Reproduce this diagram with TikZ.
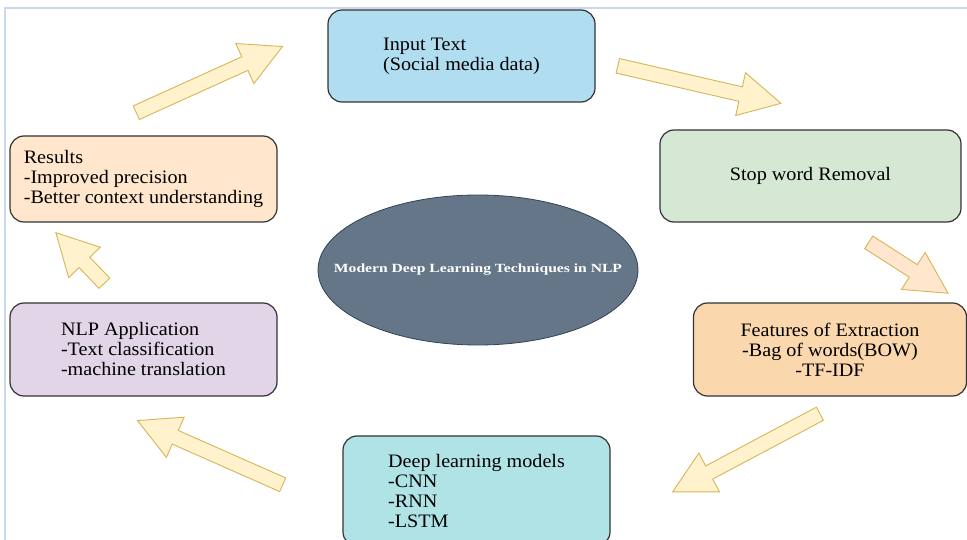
\documentclass[tikz,border=0pt]{standalone}
\usepackage{fontspec}
\setmainfont{Liberation Serif}
\newfontfamily\boxfont{Liberation Serif}[FakeStretch=1.06]
\newfontfamily\ellfont{Liberation Serif}[FakeStretch=1.25]
\usepackage{tikz}
\usetikzlibrary{shapes.geometric, shapes.arrows, calc}

\definecolor{frameblue}{HTML}{C9D9EF}
\definecolor{boxline}{HTML}{333333}
\definecolor{inpblue}{HTML}{B1DDF0}
\definecolor{stopgreen}{HTML}{D5E8D4}
\definecolor{featorange}{HTML}{FAD7AC}
\definecolor{deepcyan}{HTML}{B0E3E6}
\definecolor{nlppurple}{HTML}{E1D5E7}
\definecolor{respeach}{HTML}{FFE6CC}
\definecolor{ellgray}{HTML}{647687}
\definecolor{ellline}{HTML}{314354}
\definecolor{arrfill}{HTML}{FFF2CC}
\definecolor{arrline}{HTML}{D6B656}
\definecolor{arrpeach}{HTML}{FFE6CC}

\newcommand{\flowarrow}[3][]{%
	\path let \p1=($(#3)-(#2)$), \n1={atan2(\y1,\x1)}, \n2={veclen(\x1,\y1)-2} in
		node[flow, #1, rotate=\n1, minimum height=\n2] at ($(#2)!0.5!(#3)$) {};}

\begin{document}
\begin{tikzpicture}[x=1pt, y=-1pt,
	box/.style={draw=boxline, line width=1.2pt, rounded corners=14pt, inner sep=0pt, font=\boxfont\fontsize{19}{20}\selectfont},
	flow/.style={single arrow, draw=arrline, fill=arrfill, line width=0.9pt, inner xsep=0pt, inner ysep=7pt, minimum width=43pt, single arrow head extend=14.5pt, single arrow tip angle=56},
]
	\clip (0,0) rectangle (967,540);
	\fill[white] (0,0) rectangle (967,540);
	\draw[frameblue, line width=1.5pt] (5,540) -- (5,8) -- (967,8);

	\node[box, fill=inpblue, minimum width=267pt, minimum height=92pt, align=left] (inp) at (461.5,56) {Input Text\\(Social media data)};
	\node[box, fill=stopgreen, minimum width=301pt, minimum height=92pt] (stop) at (810.5,176) {Stop word Removal};
	\node[box, fill=featorange, minimum width=273pt, minimum height=93pt, align=center] (feat) at (830,349.5) {Features of Extraction\\-Bag of words(BOW)\\-TF-IDF};
	\node[box, fill=deepcyan, minimum width=267pt, minimum height=110pt, align=left] (deep) at (476.5,491) {Deep learning models\\-CNN\\-RNN\\-LSTM};
	\node[box, fill=nlppurple, minimum width=267pt, minimum height=93pt, align=left] (nlp) at (143.5,349.5) {NLP Application\\-Text classification\\-machine translation};
	\node[box, fill=respeach, minimum width=267pt, minimum height=86pt, align=left] (res) at (143.5,179) {Results\\-Improved precision\\-Better context understanding};

	\node[ellipse, draw=ellline, fill=ellgray, line width=0.8pt, minimum width=320pt, minimum height=150pt] (core) at (478,270) {};
	\node[text=white, font=\ellfont\fontsize{12.5}{14}\selectfont\bfseries] (coretext) at (core) {Modern Deep Learning Techniques in NLP};

	\coordinate (a1s) at (129,116);
	\coordinate (a1e) at (277,49);
	\coordinate (a2s) at (610,64);
	\coordinate (a2e) at (775,102);
	\coordinate (a3s) at (862,238);
	\coordinate (a3e) at (943,290);
	\coordinate (a4s) at (827,410);
	\coordinate (a4e) at (678,489);
	\coordinate (a5s) at (290,488);
	\coordinate (a5e) at (143,423);
	\coordinate (a6s) at (110,289);
	\coordinate (a6e) at (60,237);

	\flowarrow{a1s}{a1e}
	\flowarrow{a2s}{a2e}
	\flowarrow[fill=arrpeach]{a3s}{a3e}
	\flowarrow{a4s}{a4e}
	\flowarrow{a5s}{a5e}
	\flowarrow{a6s}{a6e}
\end{tikzpicture}
\end{document}
